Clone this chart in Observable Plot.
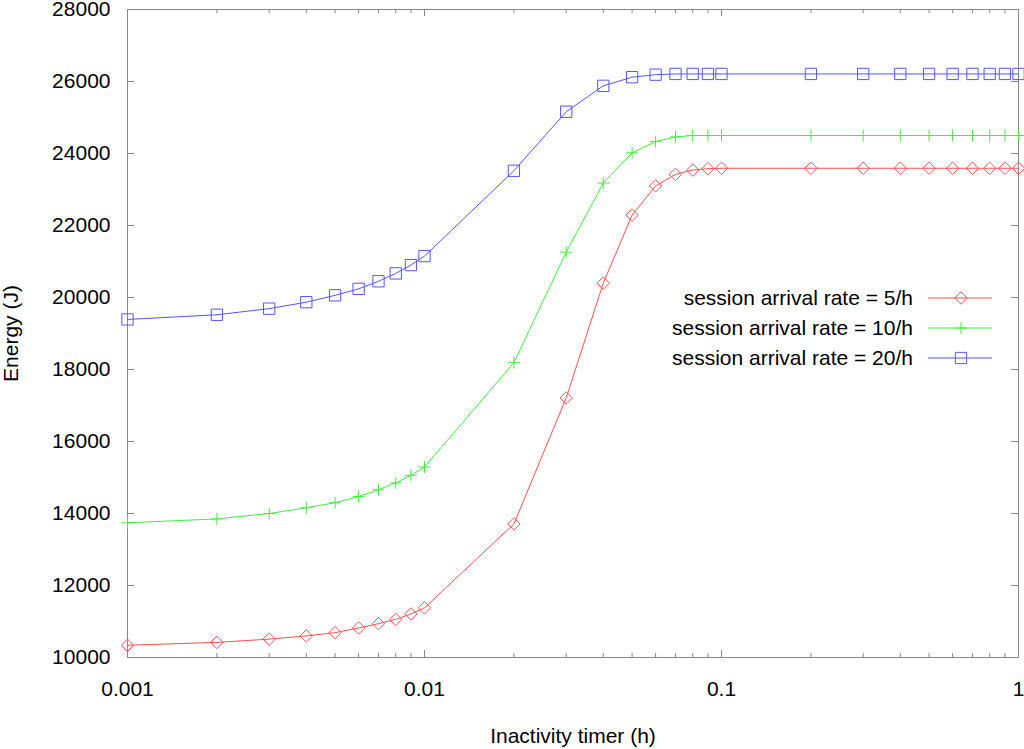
<!DOCTYPE html>
<html>
<head>
<meta charset="utf-8">
<script src="https://cdn.jsdelivr.net/npm/d3@7"></script>
<script src="https://cdn.jsdelivr.net/npm/@observablehq/plot@0.6"></script>
<style>
  html, body { margin: 0; padding: 0; background: #fff; }
</style>
</head>
<body>
<div id="chart"></div>
<script>
// ---- data ----
const timers = [0.001, 0.002, 0.003, 0.004, 0.005, 0.006, 0.007, 0.008, 0.009, 0.01,
                0.02, 0.03, 0.04, 0.05, 0.06, 0.07, 0.08, 0.09, 0.1,
                0.2, 0.3, 0.4, 0.5, 0.6, 0.7, 0.8, 0.9, 1];
const rate5 = [10340, 10420, 10510, 10600, 10690, 10820, 10940, 11060, 11210, 11380,
               13710, 17210, 20400, 22290, 23100, 23420, 23540, 23580, 23590,
               23590, 23590, 23590, 23590, 23590, 23590, 23590, 23590, 23590];
const rate10 = [13740, 13850, 14000, 14160, 14300, 14470, 14660, 14850, 15060, 15290,
                18190, 21260, 23180, 24020, 24330, 24460, 24500, 24500, 24500,
                24500, 24500, 24500, 24500, 24500, 24500, 24500, 24500, 24500];
const rate20 = [19390, 19520, 19690, 19870, 20060, 20240, 20450, 20670, 20900, 21150,
                23520, 25160, 25880, 26120, 26190, 26210, 26210, 26210, 26210,
                26210, 26210, 26210, 26210, 26210, 26210, 26210, 26210, 26210];
const seriesNames = ["session arrival rate = 5/h", "session arrival rate = 10/h", "session arrival rate = 20/h"];
const seriesColors = ["#ff5050", "#40ee40", "#5555ff"];
const xTickLabels = [0.001, 0.01, 0.1, 1];
const yTickLabels = [10000, 12000, 14000, 16000, 18000, 20000, 22000, 24000, 26000, 28000];

// ---- build table ----
const seriesValues = [rate5, rate10, rate20];
const data = [];
seriesValues.forEach((vals, k) => timers.forEach((t, i) => data.push({x: t, y: vals[i], s: seriesNames[k]})));

const W = 1024, H = 749;
const mL = 127, mR = 6, mT = 9, mB = 92;
const pw = W - mL - mR, ph = H - mT - mB;
const majorLen = 7, minorLen = 4;
const frameColor = "#888";

const minorX = d3.scaleLog().domain([0.001, 1]).ticks().filter(v => !xTickLabels.some(m => Math.abs(m - v) < 1e-12));

const symbols = ["diamond2", "plus", "square2"];
const radii = [5.6, 3.9, 7.2];

const marks = [
  Plot.frame({stroke: frameColor}),
  Plot.ruleX(xTickLabels, {stroke: frameColor, insetTop: ph - majorLen}),
  Plot.ruleX(xTickLabels, {stroke: frameColor, insetBottom: ph - majorLen}),
  Plot.ruleX(minorX, {stroke: frameColor, insetTop: ph - minorLen}),
  Plot.ruleX(minorX, {stroke: frameColor, insetBottom: ph - minorLen}),
  Plot.ruleY(yTickLabels, {stroke: frameColor, insetRight: pw - majorLen}),
  Plot.ruleY(yTickLabels, {stroke: frameColor, insetLeft: pw - majorLen}),
  Plot.axisX({ticks: xTickLabels, tickSize: 0, tickPadding: 24, tickFormat: d => String(d),
              label: "Inactivity timer (h)", labelAnchor: "center", labelArrow: "none", labelOffset: 85}),
  Plot.axisY({ticks: yTickLabels, tickSize: 0, tickPadding: 17, tickFormat: d => String(d),
              label: "Energy (J)", labelAnchor: "center", labelArrow: "none", labelOffset: 124}),
  Plot.line(data, {x: "x", y: "y", z: "s", stroke: "s", strokeWidth: 1})
];
seriesNames.forEach((name, k) => {
  marks.push(Plot.dot(data.filter(d => d.s === name), {
    x: "x", y: "y", stroke: "s", symbol: () => symbols[k], r: radii[k], fill: "none", strokeWidth: 1
  }));
});

const svg = Plot.plot({
  width: W, height: H,
  marginLeft: mL, marginRight: mR, marginTop: mT, marginBottom: mB,
  style: {fontFamily: "'Liberation Sans', Arial, Helvetica, sans-serif", fontSize: "21px", color: "#000", background: "#fff", overflow: "visible"},
  x: {type: "log", domain: [0.001, 1]},
  y: {domain: [10000, 28000]},
  color: {domain: seriesNames, range: seriesColors},
  symbol: {type: "identity"},
  marks
});

// ---- legend (inside the plot, right side) ----
const g = d3.select(svg).append("g").attr("font-family", "'Liberation Sans', Arial, Helvetica, sans-serif").attr("font-size", 21);
const symTypes = [d3.symbolDiamond2, d3.symbolPlus, d3.symbolSquare2];
seriesNames.forEach((name, k) => {
  const yy = 298 + k * 30;
  g.append("text").attr("x", 913).attr("y", yy).attr("text-anchor", "end").attr("dy", "0.35em").attr("fill", "#000").text(name);
  g.append("line").attr("x1", 928).attr("x2", 992).attr("y1", yy).attr("y2", yy).attr("stroke", seriesColors[k]).attr("stroke-width", 1);
  g.append("path").attr("transform", `translate(961,${yy})`)
    .attr("d", d3.symbol(symTypes[k], Math.PI * radii[k] * radii[k])())
    .attr("fill", "none").attr("stroke", seriesColors[k]).attr("stroke-width", 1);
});

document.getElementById("chart").appendChild(svg);
</script>
</body>
</html>
